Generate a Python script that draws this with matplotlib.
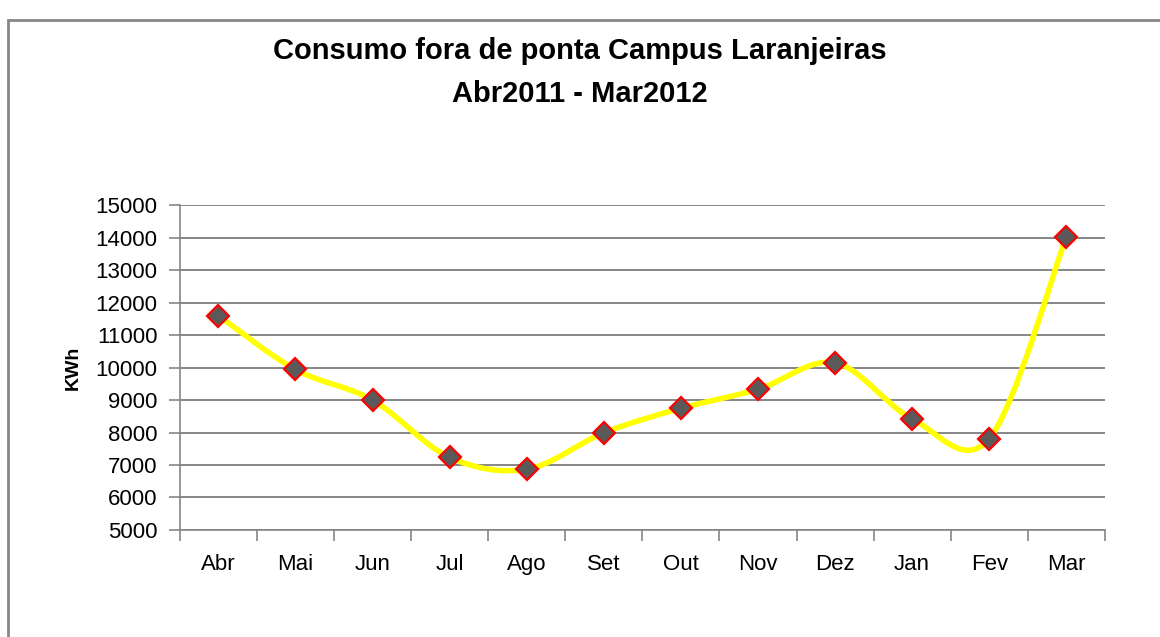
import matplotlib
matplotlib.use("Agg")
import matplotlib.pyplot as plt
from matplotlib.path import Path
from matplotlib.patches import PathPatch, Rectangle
import numpy as np

months = ['Abr', 'Mai', 'Jun', 'Jul', 'Ago', 'Set', 'Out', 'Nov', 'Dez', 'Jan', 'Fev', 'Mar']
kwh = [11600, 9940, 9000, 7235, 6870, 7990, 8745, 9330, 10145, 8420, 7810, 14030]
yticks = [5000, 6000, 7000, 8000, 9000, 10000, 11000, 12000, 13000, 14000, 15000]

plt.rcParams['font.family'] = ['Liberation Sans', 'DejaVu Sans']

fig = plt.figure(figsize=(11.6, 6.37), dpi=100)
fig.patches.append(Rectangle((8 / 1160, -0.1), 1.2, (637 - 20) / 637 + 0.1,
                             transform=fig.transFigure, fill=False,
                             edgecolor='#868686', linewidth=2))

ax = fig.add_axes([0.155, 0.168, 0.7975, 0.51])

# smooth line (Excel-like), cubic bezier segments through the points
x = np.arange(len(months))
y = np.array(kwh, dtype=float)
verts = [(x[0], y[0])]
codes = [Path.MOVETO]
t = 1 / 6
for i in range(len(x) - 1):
    p0 = (x[i - 1], y[i - 1]) if i > 0 else (x[i], y[i])
    p1 = (x[i], y[i])
    p2 = (x[i + 1], y[i + 1])
    p3 = (x[i + 2], y[i + 2]) if i + 2 < len(x) else (x[i + 1], y[i + 1])
    c1 = (p1[0] + (p2[0] - p0[0]) * t, p1[1] + (p2[1] - p0[1]) * t)
    c2 = (p2[0] - (p3[0] - p1[0]) * t, p2[1] - (p3[1] - p1[1]) * t)
    verts += [c1, c2, p2]
    codes += [Path.CURVE4] * 3
ax.add_patch(PathPatch(Path(verts, codes), facecolor='none', edgecolor='#FFFF00',
                       linewidth=4, zorder=3, capstyle='round'))

ax.plot(x, y, linestyle='none', marker='D', markersize=11, markerfacecolor='#5a5a5a',
        markeredgecolor='#FF0000', markeredgewidth=1.6, zorder=4)

ax.set_xlim(-0.5, len(months) - 0.5)
ax.set_ylim(5000, 15000)
ax.set_yticks(yticks)
ax.set_yticklabels([str(v) for v in yticks], fontsize=16)
ax.set_xticks(x)
ax.set_xticklabels(months, fontsize=16)
ax.set_xticks(np.arange(-0.5, len(months), 1), minor=True)
ax.tick_params(axis='x', which='major', length=0, pad=17)
ax.tick_params(axis='x', which='minor', length=8, color='#868686', width=1.2)
ax.tick_params(axis='y', length=8, color='#868686', width=1.2, pad=8)
ax.grid(axis='y', color='#868686', linewidth=1.4)
ax.set_axisbelow(True)
for s in ['top', 'right']:
    ax.spines[s].set_visible(False)
for s in ['left', 'bottom']:
    ax.spines[s].set_color('#868686')
    ax.spines[s].set_linewidth(1.2)

ax.set_ylabel('KWh', fontsize=14, fontweight='bold', labelpad=10)

fig.text(0.5, 1 - 51 / 637, 'Consumo fora de ponta Campus Laranjeiras', ha='center', va='center',
         fontsize=21, fontweight='bold')
fig.text(0.5, 1 - 94 / 637, 'Abr2011 - Mar2012', ha='center', va='center',
         fontsize=21, fontweight='bold')

fig.savefig('out.png', dpi=100)
plt.close(fig)
